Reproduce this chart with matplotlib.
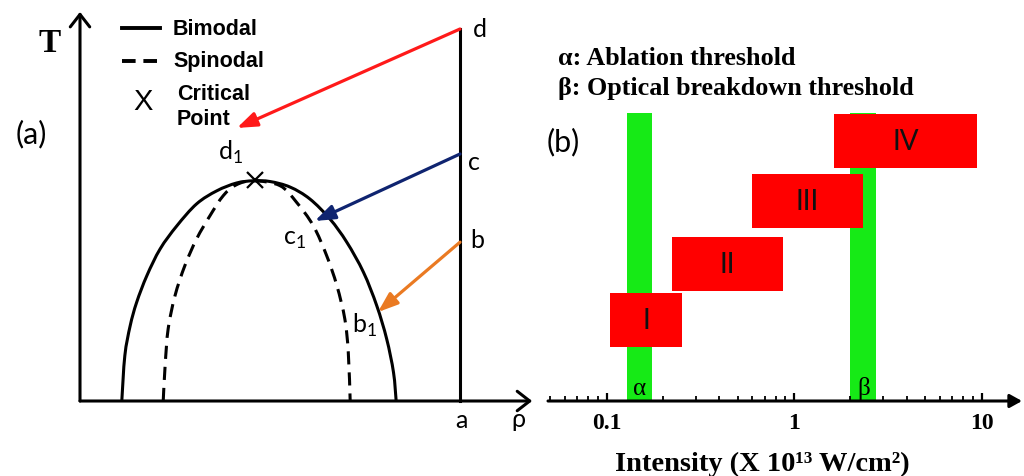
import matplotlib
matplotlib.use("Agg")
import matplotlib.pyplot as plt
from matplotlib.path import Path
from matplotlib.patches import PathPatch
from matplotlib.ticker import NullFormatter

# ---- (a) phase diagram: density rho vs temperature T (a = 1 on rho, d = 1 on T)
bimodal_rho = [0.110, 0.118, 0.132, 0.149, 0.176, 0.211, 0.255, 0.307, 0.360, 0.412, 0.456,
               0.500, 0.553, 0.605, 0.658, 0.702, 0.746, 0.781, 0.807, 0.825, 0.832]
bimodal_T = [0.0, 0.122, 0.202, 0.265, 0.337, 0.409, 0.471, 0.530, 0.565, 0.586, 0.592,
             0.590, 0.575, 0.543, 0.489, 0.427, 0.346, 0.256, 0.167, 0.077, 0.0]
spinodal_rho = [0.219, 0.224, 0.232, 0.250, 0.276, 0.307, 0.342, 0.377, 0.411, 0.456,
                0.526, 0.570, 0.614, 0.649, 0.676, 0.697, 0.706, 0.711]
spinodal_T = [0.0, 0.095, 0.194, 0.283, 0.364, 0.436, 0.498, 0.552, 0.581, 0.592,
              0.579, 0.534, 0.471, 0.391, 0.310, 0.220, 0.131, 0.0]
critical_rho, critical_T = 0.46, 0.594

# heating paths: start on the isochore rho = 1, end on the binodal/spinodal
path_names = ["d", "c", "b"]
path_start_T = [1.0, 0.664, 0.427]
path_end_rho = [0.413, 0.618, 0.784]
path_end_T = [0.734, 0.484, 0.239]
path_colors = ["#ff1a1a", "#0f2470", "#ea7a22"]

# ---- (b) intensity regimes (X 10^13 W/cm^2)
thresholds = ["α", "β"]
threshold_lo = [0.128, 2.0]
threshold_hi = [0.175, 2.74]
regimes = ["I", "II", "III", "IV"]
regime_lo = [0.104, 0.224, 0.597, 1.63]
regime_hi = [0.253, 0.873, 2.33, 9.46]
regime_bottom = [0.188, 0.382, 0.601, 0.809]
regime_top = [0.375, 0.569, 0.788, 0.997]

SANS = ["Lato", "DejaVu Sans"]
SERIF = ["Liberation Serif", "DejaVu Serif"]
LW = 2.2


def smooth_path(xs, ys):
    # cubic bezier through every point (catmull-rom tangents)
    pts = list(zip(xs, ys))
    verts = [pts[0]]
    codes = [Path.MOVETO]
    for i in range(len(pts) - 1):
        p0 = pts[i - 1] if i > 0 else pts[i]
        p1, p2 = pts[i], pts[i + 1]
        p3 = pts[i + 2] if i + 2 < len(pts) else pts[i + 1]
        c1 = (p1[0] + (p2[0] - p0[0]) / 6, p1[1] + (p2[1] - p0[1]) / 6)
        c2 = (p2[0] - (p3[0] - p1[0]) / 6, p2[1] - (p3[1] - p1[1]) / 6)
        verts += [c1, c2, p2]
        codes += [Path.CURVE4] * 3
    return Path(verts, codes)


fig = plt.figure(figsize=(10.24, 4.77), dpi=100)
fig.patch.set_facecolor("white")

# panel (a) uses the whole figure as its canvas
ax = fig.add_axes([0, 0, 1, 1])
ax.set_xlim(-80 / 380, 944 / 380)
ax.set_ylim(-75 / 372, 402 / 372)
ax.axis("off")

axis_arrow = dict(arrowstyle="->,head_length=0.45,head_width=0.35", lw=LW, color="k",
                  shrinkA=0, shrinkB=0, mutation_scale=20)
ax.annotate("", xy=(0, 1.046), xytext=(0, 0), arrowprops=axis_arrow)
ax.annotate("", xy=(1.19, 0), xytext=(0, 0), arrowprops=axis_arrow)
ax.plot([1, 1], [0, 1.0], color="k", lw=LW)

ax.add_patch(PathPatch(smooth_path(bimodal_rho, bimodal_T), fill=False, ec="k", lw=LW))
ax.add_patch(PathPatch(smooth_path(spinodal_rho, spinodal_T), fill=False, ec="k", lw=LW,
                       linestyle=(0, (4.3, 2.6))))
ax.plot([critical_rho], [critical_T], marker="x", color="k", ms=11, mew=1.6)

for name, t0, r1, t1, col in zip(path_names, path_start_T, path_end_rho, path_end_T, path_colors):
    ax.annotate("", xy=(r1, t1), xytext=(1, t0),
                arrowprops=dict(arrowstyle="-|>,head_length=0.6,head_width=0.22", lw=2.3,
                                color=col, shrinkA=0, shrinkB=0, mutation_scale=20))

# point labels
lab = dict(family=SANS, fontsize=18, color="k")
ax.text(1.053, 0.981, "d", ha="center", va="baseline", **lab)
ax.text(1.037, 0.624, "c", ha="center", va="baseline", **lab)
ax.text(1.045, 0.414, "b", ha="center", va="baseline", **lab)
ax.text(1.003, -0.070, "a", ha="center", va="baseline", **lab)
ax.text(1.153, -0.068, "ρ", ha="center", va="baseline", **lab)
ax.text(0.363, 0.650, r"d$_\mathregular{1}$", ha="left", va="baseline", **lab)
ax.text(0.534, 0.422, r"c$_\mathregular{1}$", ha="left", va="baseline", **lab)
ax.text(0.716, 0.186, r"b$_\mathregular{1}$", ha="left", va="baseline", **lab)

ax.text(-0.079, 0.941, "T", ha="center", va="baseline", family=SERIF, fontweight="bold", fontsize=24)
ax.text(-0.129, 0.719, "(a)", ha="center", va="center", family=SANS, fontsize=22)

# legend of panel (a)
ax.plot([0.1105, 0.2105], [1.003, 1.003], color="k", lw=2.8)
ax.plot([0.1105, 0.2055], [0.914, 0.914], color="k", lw=2.8, dashes=(3.5, 2.0))
leg = dict(family=["Liberation Sans", "DejaVu Sans"], fontweight="bold", fontsize=15.5,
           ha="left", va="baseline")
ax.text(0.2447, 0.9866, "Bimodal", **leg)
ax.text(0.2447, 0.9005, "Spinodal", **leg)
ax.text(0.2553, 0.8118, "Critical", **leg)
ax.text(0.2553, 0.7446, "Point", **leg)
ax.text(0.1658, 0.785, "X", ha="center", va="baseline",
        family=["Liberation Sans", "DejaVu Sans"], fontsize=21)

# panel (b): log intensity axis
axb = fig.add_axes([548 / 1024, 75 / 477, 474 / 1024, 302 / 477])
axb.patch.set_visible(False)
axb.set_xscale("log")
axb.set_xlim(0.04875, 16.44)
axb.set_ylim(0, 302 / 288)
for s in axb.spines.values():
    s.set_visible(False)
axb.set_yticks([])

for name, lo, hi in zip(thresholds, threshold_lo, threshold_hi):
    axb.fill_between([lo, hi], 0, 1.0, color="#16ea16", lw=0, zorder=1)
    axb.text((lo * hi) ** 0.5, 0.024, name, ha="center", va="baseline",
             family=SERIF, fontsize=18, zorder=3)

for name, lo, hi, b, t in zip(regimes, regime_lo, regime_hi, regime_bottom, regime_top):
    axb.fill_between([lo, hi], b, t, color="#ff0000", lw=0, zorder=2)
    axb.text((lo * hi) ** 0.5, (b + t) / 2, name, ha="center", va="center",
             family=SANS, fontsize=20, color="#111111", zorder=3)

axb.annotate("", xy=(1, 0), xytext=(0, 0), xycoords="axes fraction",
             arrowprops=dict(arrowstyle="-|>,head_length=0.45,head_width=0.25", lw=LW,
                             color="k", shrinkA=0, shrinkB=0, mutation_scale=16), zorder=4)

axb.set_xticks([0.1, 1, 10])
axb.set_xticklabels(["0.1", "1", "10"], family=SERIF, fontweight="bold", fontsize=17)
axb.xaxis.set_minor_formatter(NullFormatter())
axb.tick_params(axis="x", which="major", direction="in", length=6, width=1.6, pad=8)
axb.tick_params(axis="x", which="minor", direction="in", length=3.5, width=1.3)
axb.set_xlabel("Intensity (X 10¹³ W/cm²)", family=SERIF, fontweight="bold", fontsize=20.5,
               va="top")
axb.xaxis.set_label_coords((762 - 548) / 474, -50 / 302)

head = dict(family=SERIF, fontweight="bold", fontsize=18.8, ha="left", va="baseline")
fig.text(558 / 1024, 1 - 65 / 477, "α: Ablation threshold", **head)
fig.text(558 / 1024, 1 - 95 / 477, "β: Optical breakdown threshold", **head)
fig.text(563 / 1024, 1 - 142 / 477, "(b)", ha="center", va="center", family=SANS, fontsize=22)

fig.savefig("out.png", dpi=100, facecolor="white")
